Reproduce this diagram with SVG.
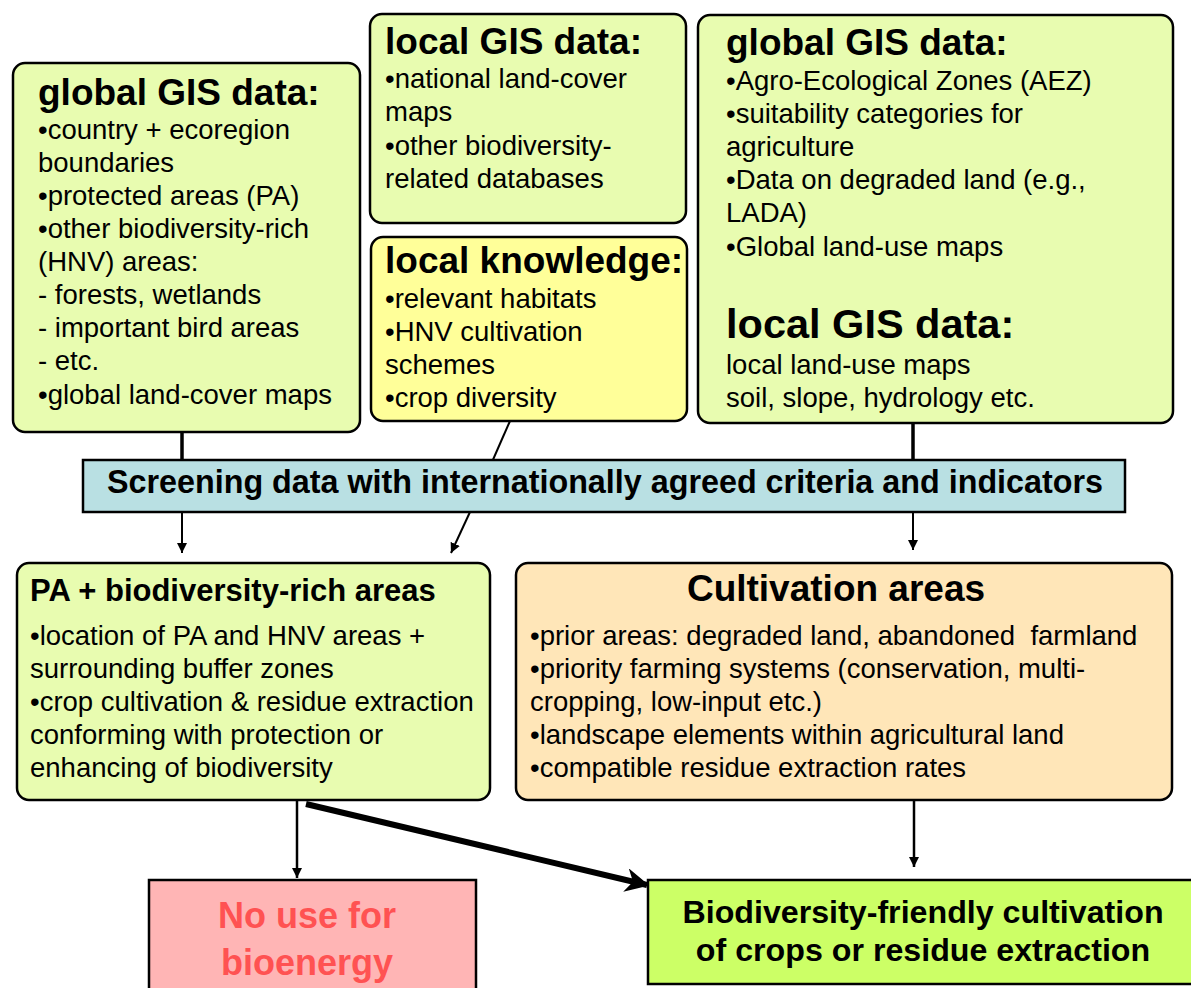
<svg xmlns="http://www.w3.org/2000/svg" width="1191" height="988" viewBox="0 0 1191 988">
  <style>
    .box { stroke: #000; stroke-width: 2.5; }
    .green { fill: #e8fcb0; }
    .yellow { fill: #ffff99; }
    .peach { fill: #ffe6b8; }
    .blue { fill: #b9e0e3; }
    .pink { fill: #ffb5b5; }
    .lime { fill: #ccff66; }
    text { font-family: "Liberation Sans", Arial, sans-serif; fill: #000; }
    .title { font-size: 37px; font-weight: bold; }
    .big { font-size: 41.5px; font-weight: bold; }
    .body { font-size: 27.5px; }
    .head { font-size: 31px; font-weight: bold; }
    .link { stroke: #000; fill: none; }
  </style>
  <defs>
    <marker id="arrow" viewBox="0 0 10 10" refX="10" refY="5" markerWidth="10" markerHeight="10" markerUnits="userSpaceOnUse" orient="auto">
      <path d="M0,0 L10,5 L0,10 Z" fill="#000"/>
    </marker>
    <marker id="arrowBold" viewBox="0 0 10 10" refX="9" refY="5" markerWidth="4" markerHeight="4" orient="auto">
      <path d="M0,0 L10,5 L0,10 L3,5 Z" fill="#000"/>
    </marker>
  </defs>

  <!-- connectors (drawn first so the screening bar sits on top of them) -->
  <g id="connectors">
    <line class="link" x1="182" y1="432" x2="182" y2="462" stroke-width="3.5"/>
    <line class="link" x1="182" y1="512" x2="182" y2="553" stroke-width="2" marker-end="url(#arrow)"/>
    <line class="link" x1="510" y1="421" x2="492" y2="462" stroke-width="2"/>
    <line class="link" x1="470" y1="512" x2="451" y2="553" stroke-width="2" marker-end="url(#arrow)"/>
    <line class="link" x1="913" y1="423" x2="913" y2="462" stroke-width="3.5"/>
    <line class="link" x1="913" y1="512" x2="913" y2="550" stroke-width="2" marker-end="url(#arrow)"/>
    <line class="link" x1="297" y1="801" x2="297" y2="878" stroke-width="2.5" marker-end="url(#arrow)"/>
    <line class="link" x1="306" y1="804" x2="647" y2="885" stroke-width="6" marker-end="url(#arrowBold)"/>
    <line class="link" x1="914" y1="801" x2="914" y2="867" stroke-width="2.5" marker-end="url(#arrow)"/>
  </g>

  <g id="global-gis-left">
    <rect class="box green" x="13" y="63" width="347" height="369" rx="12"/>
    <text class="title" x="38" y="105">global GIS data:</text>
    <text class="body" x="38" y="139">•country + ecoregion</text>
    <text class="body" x="38" y="172">boundaries</text>
    <text class="body" x="38" y="205">•protected areas (PA)</text>
    <text class="body" x="38" y="238">•other biodiversity-rich</text>
    <text class="body" x="38" y="271">(HNV) areas:</text>
    <text class="body" x="38" y="304">- forests, wetlands</text>
    <text class="body" x="38" y="337">- important bird areas</text>
    <text class="body" x="38" y="370">- etc.</text>
    <text class="body" x="38" y="404">•global land-cover maps</text>
  </g>

  <g id="local-gis">
    <rect class="box green" x="370" y="14" width="316" height="209" rx="12"/>
    <text class="title" x="385" y="54">local GIS data:</text>
    <text class="body" x="385" y="88">•national land-cover</text>
    <text class="body" x="385" y="121">maps</text>
    <text class="body" x="385" y="155">•other biodiversity-</text>
    <text class="body" x="385" y="188">related databases</text>
  </g>

  <g id="local-knowledge">
    <rect class="box yellow" x="371" y="237" width="316" height="184" rx="12"/>
    <text class="title" x="385" y="273">local knowledge:</text>
    <text class="body" x="385" y="308">•relevant habitats</text>
    <text class="body" x="385" y="341">•HNV cultivation</text>
    <text class="body" x="385" y="374">schemes</text>
    <text class="body" x="385" y="407">•crop diversity</text>
  </g>

  <g id="global-gis-right">
    <rect class="box green" x="698" y="15" width="475" height="408" rx="12"/>
    <text class="title" x="726" y="55">global GIS data:</text>
    <text class="body" x="726" y="90">•Agro-Ecological Zones (AEZ)</text>
    <text class="body" x="726" y="123">•suitability categories for</text>
    <text class="body" x="726" y="156">agriculture</text>
    <text class="body" x="726" y="189">•Data on degraded land (e.g.,</text>
    <text class="body" x="726" y="222">LADA)</text>
    <text class="body" x="726" y="256">•Global land-use maps</text>
    <text class="big" x="726" y="338">local GIS data:</text>
    <text class="body" x="726" y="374">local land-use maps</text>
    <text class="body" x="726" y="407">soil, slope, hydrology etc.</text>
  </g>

  <g id="screening">
    <rect class="box blue" x="83" y="460" width="1042" height="52"/>
    <text x="605" y="493" text-anchor="middle" font-size="32.3" font-weight="bold">Screening data with internationally agreed criteria and indicators</text>
  </g>

  <g id="pa-areas">
    <rect class="box green" x="17" y="563" width="473" height="237" rx="12"/>
    <text class="head" x="30" y="601">PA + biodiversity-rich areas</text>
    <text class="body" x="30" y="645">•location of PA and HNV areas +</text>
    <text class="body" x="30" y="678">surrounding buffer zones</text>
    <text class="body" x="30" y="711">•crop cultivation &amp; residue extraction</text>
    <text class="body" x="30" y="744">conforming with protection or</text>
    <text class="body" x="30" y="777">enhancing of biodiversity</text>
  </g>

  <g id="cultivation-areas">
    <rect class="box peach" x="516" y="563" width="656" height="237" rx="12"/>
    <text class="title" x="836" y="601" text-anchor="middle">Cultivation areas</text>
    <text class="body" x="530" y="645" xml:space="preserve">•prior areas: degraded land, abandoned  farmland</text>
    <text class="body" x="530" y="678">•priority farming systems (conservation, multi-</text>
    <text class="body" x="530" y="711">cropping, low-input etc.)</text>
    <text class="body" x="530" y="744">•landscape elements within agricultural land</text>
    <text class="body" x="530" y="777">•compatible residue extraction rates</text>
  </g>

  <g id="no-use">
    <rect class="box pink" x="149" y="880" width="327" height="120"/>
    <text x="307" y="928" text-anchor="middle" font-size="36" font-weight="bold" style="fill:#ff5252">No use for</text>
    <text x="307" y="975" text-anchor="middle" font-size="36" font-weight="bold" style="fill:#ff5252">bioenergy</text>
  </g>

  <g id="biodiversity-friendly">
    <rect class="box lime" x="648" y="880" width="560" height="104"/>
    <text x="923" y="923" text-anchor="middle" font-size="32.2" font-weight="bold">Biodiversity-friendly cultivation</text>
    <text x="923" y="961" text-anchor="middle" font-size="32.2" font-weight="bold">of crops or residue extraction</text>
  </g>
</svg>
